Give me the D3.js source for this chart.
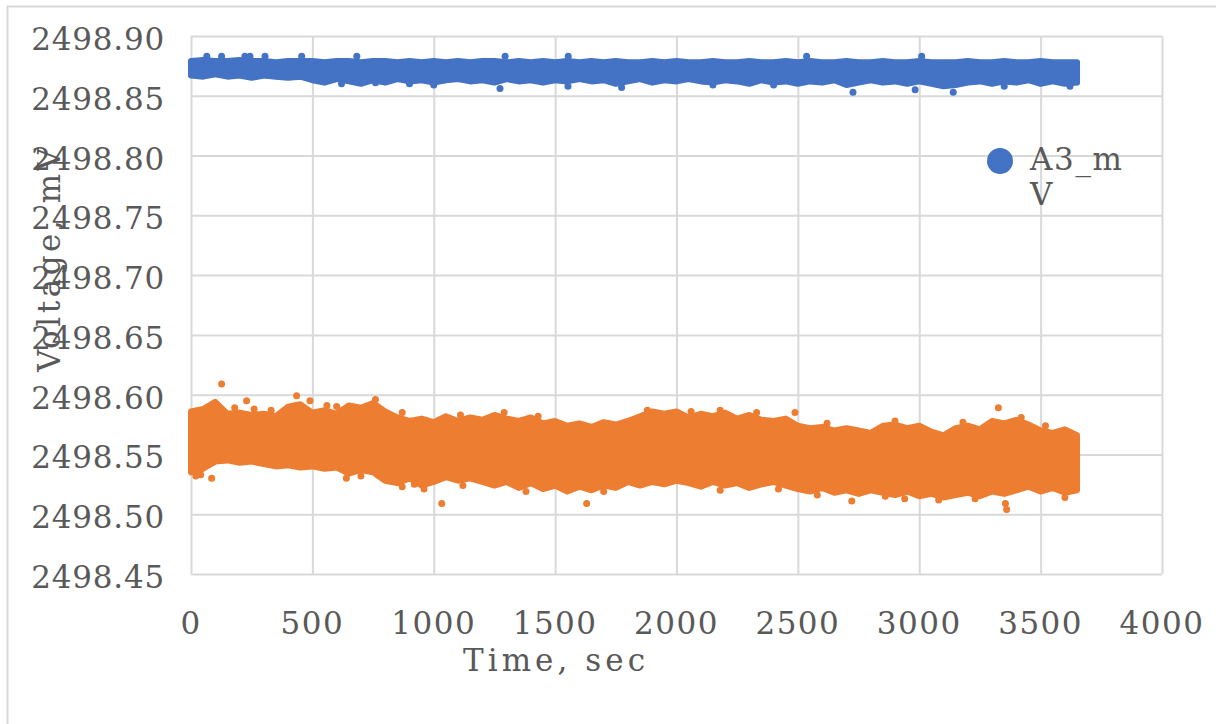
<!DOCTYPE html>
<html>
<head>
<meta charset="utf-8">
<script src="https://cdn.jsdelivr.net/npm/d3@7"></script>
<style>
  html, body { margin: 0; padding: 0; background: #ffffff; }
  svg { display: block; }
  text { font-family: "DejaVu Serif", "Liberation Serif", serif; fill: #595959; }
</style>
</head>
<body>
<svg id="chart" width="1216" height="724"></svg>
<script>
// ---------- data ----------
const seriesNames = ["A3_mV", "A4_mV"];
const timeTicks = [0, 500, 1000, 1500, 2000, 2500, 3000, 3500, 4000];
const voltTicks = [2498.45, 2498.50, 2498.55, 2498.60, 2498.65, 2498.70, 2498.75, 2498.80, 2498.85, 2498.90];
const xTitle = "Time, sec";
const yTitle = "Voltage, mV";

// sample times of the envelope readings (sec)
const times = [0,50,100,150,200,250,300,350,400,450,500,550,600,650,700,750,800,850,900,950,
  1000,1050,1100,1150,1200,1250,1300,1350,1400,1450,1500,1550,1600,1650,1700,1750,1800,1850,1900,1950,
  2000,2050,2100,2150,2200,2250,2300,2350,2400,2450,2500,2550,2600,2650,2700,2750,2800,2850,2900,2950,
  3000,3050,3100,3150,3200,3250,3300,3350,3400,3450,3500,3550,3600,3650];

// A3_mV dense cloud: upper and lower edge of the point band
const blueUpper = [2498.879,2498.880,2498.879,2498.879,2498.880,2498.879,2498.879,2498.878,2498.879,2498.879,
  2498.879,2498.878,2498.879,2498.879,2498.878,2498.879,2498.879,2498.878,2498.879,2498.878,
  2498.879,2498.878,2498.879,2498.878,2498.879,2498.879,2498.878,2498.879,2498.878,2498.879,
  2498.878,2498.879,2498.878,2498.879,2498.878,2498.879,2498.878,2498.878,2498.879,2498.878,
  2498.879,2498.878,2498.878,2498.879,2498.878,2498.878,2498.879,2498.878,2498.878,2498.879,
  2498.878,2498.879,2498.878,2498.878,2498.879,2498.878,2498.878,2498.879,2498.878,2498.878,
  2498.879,2498.878,2498.878,2498.878,2498.879,2498.878,2498.878,2498.879,2498.878,2498.878,
  2498.879,2498.878,2498.878,2498.878];
const blueLower = [2498.867,2498.866,2498.868,2498.866,2498.867,2498.865,2498.867,2498.866,2498.865,2498.866,
  2498.863,2498.861,2498.864,2498.862,2498.860,2498.863,2498.861,2498.864,2498.862,2498.863,
  2498.861,2498.863,2498.864,2498.862,2498.863,2498.861,2498.864,2498.862,2498.863,2498.861,
  2498.863,2498.862,2498.864,2498.862,2498.863,2498.860,2498.862,2498.864,2498.861,2498.863,
  2498.862,2498.864,2498.862,2498.861,2498.863,2498.862,2498.860,2498.863,2498.861,2498.862,
  2498.860,2498.862,2498.861,2498.863,2498.859,2498.861,2498.863,2498.861,2498.862,2498.860,
  2498.862,2498.860,2498.858,2498.859,2498.861,2498.862,2498.860,2498.862,2498.861,2498.863,
  2498.860,2498.862,2498.860,2498.861];
// A3_mV isolated points at the edges of the band [time, value]
const blueOutliers = [[65,2498.883],[126,2498.883],[222,2498.883],[243,2498.883],[305,2498.883],[456,2498.883],
  [683,2498.883],[1294,2498.883],[1554,2498.883],[2536,2498.883],[3010,2498.883],
  [620,2498.860],[760,2498.861],[900,2498.860],[1000,2498.859],[1273,2498.856],[1553,2498.858],
  [1774,2498.857],[2150,2498.859],[2400,2498.859],[2727,2498.853],[2983,2498.855],[3140,2498.853],
  [3350,2498.858],[3621,2498.858]];

// A4_mV dense cloud: upper and lower edge of the point band
const orangeUpper = [2498.586,2498.588,2498.594,2498.584,2498.585,2498.583,2498.584,2498.582,2498.590,2498.592,
  2498.585,2498.587,2498.584,2498.591,2498.589,2498.593,2498.586,2498.581,2498.578,2498.580,
  2498.577,2498.582,2498.578,2498.581,2498.579,2498.583,2498.580,2498.578,2498.581,2498.576,
  2498.578,2498.574,2498.576,2498.573,2498.577,2498.575,2498.578,2498.582,2498.586,2498.584,
  2498.586,2498.581,2498.584,2498.582,2498.585,2498.580,2498.583,2498.579,2498.578,2498.580,
  2498.574,2498.572,2498.573,2498.570,2498.572,2498.570,2498.568,2498.574,2498.575,2498.572,
  2498.574,2498.569,2498.566,2498.572,2498.574,2498.571,2498.578,2498.576,2498.579,2498.575,
  2498.570,2498.568,2498.571,2498.566];
const orangeLower = [2498.535,2498.538,2498.544,2498.545,2498.543,2498.544,2498.542,2498.540,2498.541,2498.539,
  2498.540,2498.538,2498.539,2498.534,2498.537,2498.535,2498.528,2498.526,2498.530,2498.524,
  2498.527,2498.531,2498.528,2498.530,2498.527,2498.524,2498.527,2498.522,2498.526,2498.521,
  2498.524,2498.519,2498.523,2498.520,2498.524,2498.522,2498.527,2498.524,2498.527,2498.525,
  2498.528,2498.526,2498.523,2498.527,2498.524,2498.526,2498.522,2498.525,2498.527,2498.524,
  2498.521,2498.519,2498.522,2498.518,2498.520,2498.517,2498.520,2498.518,2498.516,2498.519,
  2498.515,2498.517,2498.514,2498.516,2498.518,2498.515,2498.519,2498.517,2498.520,2498.523,
  2498.519,2498.522,2498.518,2498.520];
// A4_mV isolated points at the edges of the band [time, value]
const orangeOutliers = [[126,2498.609],[229,2498.595],[435,2498.599],[490,2498.595],[180,2498.589],[260,2498.588],
  [330,2498.587],[560,2498.591],[600,2498.590],[760,2498.596],[870,2498.585],[1110,2498.583],[1290,2498.585],
  [1430,2498.582],[1880,2498.587],[2060,2498.586],[2180,2498.587],[2330,2498.585],[2488,2498.585],
  [2620,2498.576],[2900,2498.578],[3180,2498.577],[3326,2498.589],[3420,2498.581],[3520,2498.574],
  [20,2498.532],[40,2498.533],[85,2498.530],[640,2498.530],[700,2498.532],[870,2498.523],[920,2498.525],
  [960,2498.521],[1033,2498.509],[1120,2498.524],[1380,2498.519],[1630,2498.509],[1700,2498.519],
  [2180,2498.520],[2420,2498.521],[2580,2498.516],[2722,2498.511],[2860,2498.515],[2940,2498.513],
  [3080,2498.512],[3230,2498.513],[3355,2498.509],[3360,2498.504],[3600,2498.514]];

const colors = ["#4472c4", "#ed7d31"];

// ---------- layout ----------
const svg = d3.select("#chart");
const plot = { left: 191, right: 1162, top: 36, bottom: 574 };

const x = d3.scaleLinear().domain([0, 4000]).range([plot.left, plot.right]);
const y = d3.scaleLinear().domain([2498.45, 2498.90]).range([plot.bottom, plot.top]);

// card border
svg.append("path")
  .attr("d", "M7.5,724 L7.5,6.5 L1216,6.5")
  .attr("fill", "none").attr("stroke", "#d9d9d9").attr("stroke-width", 2);

// gridlines via axes
const grid = svg.append("g");
grid.append("g")
  .attr("transform", `translate(0,${plot.bottom})`)
  .call(d3.axisBottom(x).tickValues(timeTicks).tickSize(-(plot.bottom - plot.top)).tickFormat(""))
  .call(g => g.select(".domain").remove())
  .call(g => g.selectAll("line").attr("stroke", "#d9d9d9").attr("stroke-width", 2));
grid.append("g")
  .attr("transform", `translate(${plot.left},0)`)
  .call(d3.axisLeft(y).tickValues(voltTicks).tickSize(-(plot.right - plot.left)).tickFormat(""))
  .call(g => g.select(".domain").remove())
  .call(g => g.selectAll("line").attr("stroke", "#d9d9d9").attr("stroke-width", 2));

// series
function drawSeries(upper, lower, outliers, color) {
  const rows = times.map((t, i) => ({ t, hi: upper[i], lo: lower[i] }));
  const area = d3.area()
    .x(d => x(d.t))
    .y0(d => y(d.lo))
    .y1(d => y(d.hi))
    .curve(d3.curveLinear);
  svg.append("path")
    .datum(rows)
    .attr("d", area)
    .attr("fill", color)
    .attr("stroke", color)
    .attr("stroke-width", 6)
    .attr("stroke-linejoin", "round");
  svg.append("g").selectAll("circle")
    .data(outliers)
    .join("circle")
    .attr("cx", d => x(d[0]))
    .attr("cy", d => y(d[1]))
    .attr("r", 3.5)
    .attr("fill", color);
}
drawSeries(orangeUpper, orangeLower, orangeOutliers, colors[1]);
drawSeries(blueUpper, blueLower, blueOutliers, colors[0]);

// tick labels
svg.append("g").selectAll("text")
  .data(voltTicks)
  .join("text")
  .attr("x", 165)
  .attr("y", d => y(d) + 14)
  .attr("text-anchor", "end")
  .attr("font-size", 31)
  .attr("letter-spacing", 0.8)
  .text(d => d.toFixed(2));

svg.append("g").selectAll("text")
  .data(timeTicks)
  .join("text")
  .attr("x", d => x(d))
  .attr("y", 634)
  .attr("text-anchor", "middle")
  .attr("font-size", 31)
  .attr("letter-spacing", 1.5)
  .text(d => d);

// axis titles
svg.append("text")
  .attr("x", 554)
  .attr("y", 671)
  .attr("text-anchor", "middle")
  .attr("font-size", 31)
  .attr("textLength", 182)
  .attr("lengthAdjust", "spacing")
  .text(xTitle);

svg.append("text")
  .attr("transform", "translate(60,260) rotate(-90)")
  .attr("text-anchor", "middle")
  .attr("font-size", 31)
  .attr("textLength", 224)
  .attr("lengthAdjust", "spacing")
  .text(yTitle);

// legend (only first series visible, name wrapped)
const legend = svg.append("g");
legend.append("circle").attr("cx", 1000).attr("cy", 161).attr("r", 13).attr("fill", colors[0]);
legend.append("text").attr("x", 1030).attr("y", 170).attr("font-size", 31)
  .attr("textLength", 92).attr("lengthAdjust", "spacing").text(seriesNames[0].slice(0, 4));
legend.append("text").attr("x", 1030).attr("y", 205).attr("font-size", 31)
  .text(seriesNames[0].slice(4));
</script>
</body>
</html>
